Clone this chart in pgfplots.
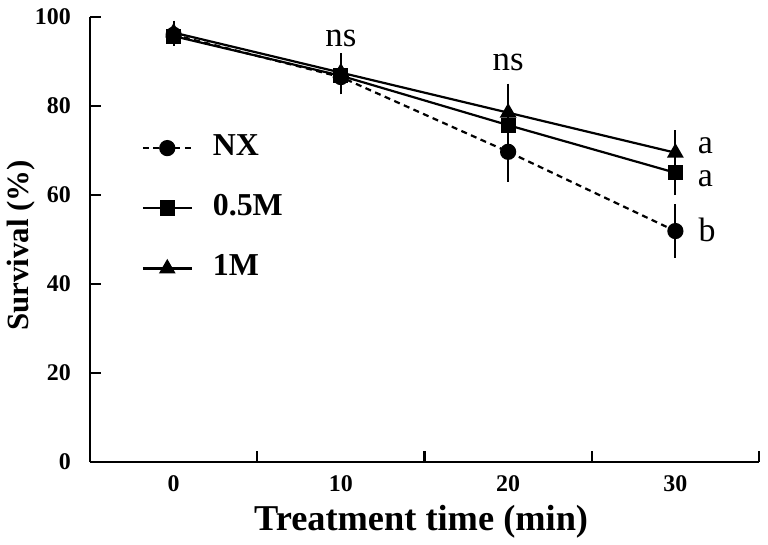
\documentclass[border=0pt]{standalone}
\usepackage{fontspec}
\setmainfont{Liberation Serif}
\usepackage{pgfplots}
\usepackage{pgfplotstable}
\pgfplotsset{compat=1.18}

\pgfplotstableread{
x y e
0 96.0 1.2
10 86.5 2.5
20 69.7 5.7
30 51.9 5.0
}\nxdata
\pgfplotstableread{
x y e
0 95.7 1.2
10 86.8 3.2
20 75.7 7.4
30 65.0 4.0
}\halfdata
\pgfplotstableread{
x y e
0 96.5 1.7
10 87.5 3.3
20 78.5 5.5
30 69.5 4.0
}\onedata

\begin{document}
\begin{tikzpicture}
\begin{axis}[
  width=669bp, height=445bp, scale only axis,
  xmin=-5, xmax=35, ymin=0, ymax=100,
  axis x line=bottom, axis y line=left,
  axis line style={-, line width=2.2bp},
  tick style={line width=2.2bp, black},
  tick align=inside,
  major tick length=11bp,
  xtick={5,15,25,35}, xticklabels={,,,},
  extra x ticks={0,10,20,30},
  extra x tick labels={0,10,20,30},
  extra x tick style={major tick length=0pt},
  ytick={0,20,40,60,80,100},
  /pgf/number format/assume math mode=true,
  ticklabel style={font=\fontsize{24}{24}\selectfont\bfseries},
  xticklabel style={anchor=north, inner sep=0pt, yshift=-13bp},
  yticklabel style={anchor=east, inner sep=0pt, xshift=-19bp},
  xlabel={Treatment time (min)},
  xlabel style={font=\fontsize{36.5}{36.5}\selectfont\bfseries, at={(axis description cs:0.495,-0.135)}, anchor=center},
  ylabel={Survival (\%)},
  ylabel style={font=\fontsize{31}{31}\selectfont\bfseries, at={(axis description cs:-0.103,0.487)}, anchor=center},
  legend style={draw=none, fill=none, at={(axis cs:-1.91,57.0)}, anchor=west,
    inner sep=0pt, outer sep=0pt, row sep=46bp,
    font=\fontsize{32}{32}\selectfont\bfseries,
    nodes={inner sep=0pt, text height=14bp, text depth=0bp},
    /tikz/every odd column/.append style={column sep=20bp}},
  legend cell align=left,
  legend image code/.code={\draw[mark repeat=2,mark phase=2,#1] plot coordinates {(0bp,0bp) (24.5bp,0bp) (49bp,0bp)};},
]
\addplot[black, line width=2.2bp, dash pattern=on 6bp off 4.5bp, mark=*, mark size=7bp, mark options={solid},
  error bars/.cd, y dir=both, y explicit, error bar style={line width=2.2bp, solid},
  error mark options={mark size=4.5bp, line width=2.2bp, solid}]
  table[x=x, y=y, y error=e] {\nxdata};
\addlegendentry{NX}
\addplot[black, line width=2.2bp, mark=square*, mark size=6.5bp, mark options={solid},
  error bars/.cd, y dir=both, y explicit, error bar style={line width=2.2bp, solid},
  error mark options={mark size=4.5bp, line width=2.2bp, solid}]
  table[x=x, y=y, y error=e] {\halfdata};
\addlegendentry{0.5M}
\addplot[black, line width=2.2bp, mark=triangle*, mark size=7.5bp, mark options={solid},
  error bars/.cd, y dir=both, y explicit, error bar style={line width=2.2bp, solid},
  error mark options={mark size=4.5bp, line width=2.2bp, solid}]
  table[x=x, y=y, y error=e] {\onedata};
\addlegendentry{1M}
\node[font=\fontsize{35}{35}\selectfont] at (axis cs:10,95.2) {ns};
\node[font=\fontsize{35}{35}\selectfont] at (axis cs:20,89.7) {ns};
\node[font=\fontsize{34}{34}\selectfont] at (axis cs:31.8,71.0) {a};
\node[font=\fontsize{34}{34}\selectfont] at (axis cs:31.8,63.6) {a};
\node[font=\fontsize{34}{34}\selectfont] at (axis cs:31.9,52.2) {b};
\coordinate (SW) at (rel axis cs:0,0);
\coordinate (NE) at (rel axis cs:1,1);
\end{axis}
\pgfresetboundingbox
\useasboundingbox ([shift={(-90bp,-83bp)}]SW) rectangle ([shift={(9bp,17bp)}]NE);
\end{tikzpicture}
\end{document}
